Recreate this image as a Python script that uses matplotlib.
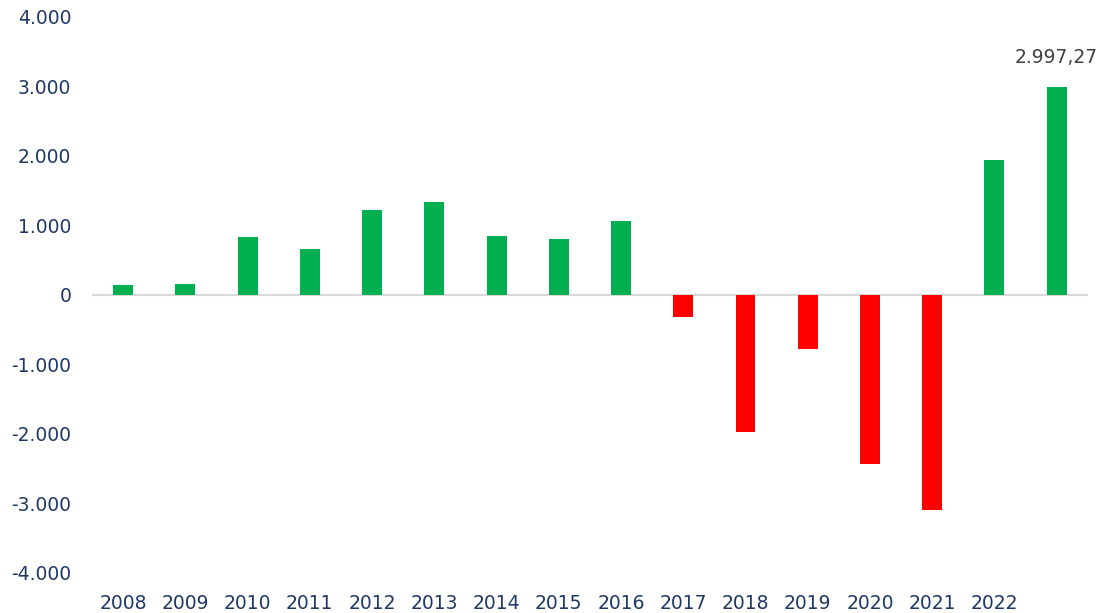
import matplotlib.pyplot as plt
from matplotlib.ticker import FuncFormatter

years = ['2008', '2009', '2010', '2011', '2012', '2013', '2014', '2015',
         '2016', '2017', '2018', '2019', '2020', '2021', '2022', '']
values = [137, 165, 835, 660, 1220, 1340, 850, 805,
          1065, -310, -1975, -775, -2425, -3100, 1940, 2997.27]

GREEN = '#00B050'
RED = '#FF0000'
NAVY = '#1F3864'

plt.rcParams['font.family'] = 'DejaVu Sans'

fig = plt.figure(figsize=(11.01, 6.13), dpi=100)
ax = fig.add_axes([0.0836, 0.0653, 0.9044, 0.907])

x = range(len(values))
colors = [GREEN if v >= 0 else RED for v in values]
ax.bar(x, values, width=0.32, color=colors, zorder=2)
ax.axhline(0, color='#D9D9D9', lw=1.6, zorder=1)

# only the last bar carries its value
last = len(values) - 1
ax.annotate(f"{values[last]:,.2f}".replace(',', 'X').replace('.', ',').replace('X', '.'),
            xy=(last, values[last]), xytext=(0, 14), textcoords='offset points',
            ha='center', va='bottom', fontsize=13.5, color='#404040')

ax.set_xlim(-0.5, len(values) - 0.5)
ax.set_ylim(-4000, 4000)
ax.set_yticks(range(-4000, 4001, 1000))
ax.yaxis.set_major_formatter(FuncFormatter(lambda v, p: f"{int(v):,}".replace(',', '.')))
ax.set_xticks(list(x))
ax.set_xticklabels(years)

ax.tick_params(axis='both', length=0, labelsize=13.5, labelcolor=NAVY)
ax.tick_params(axis='y', pad=15)
ax.tick_params(axis='x', pad=15)
for s in ax.spines.values():
    s.set_visible(False)

fig.savefig('out.png', dpi=100)
